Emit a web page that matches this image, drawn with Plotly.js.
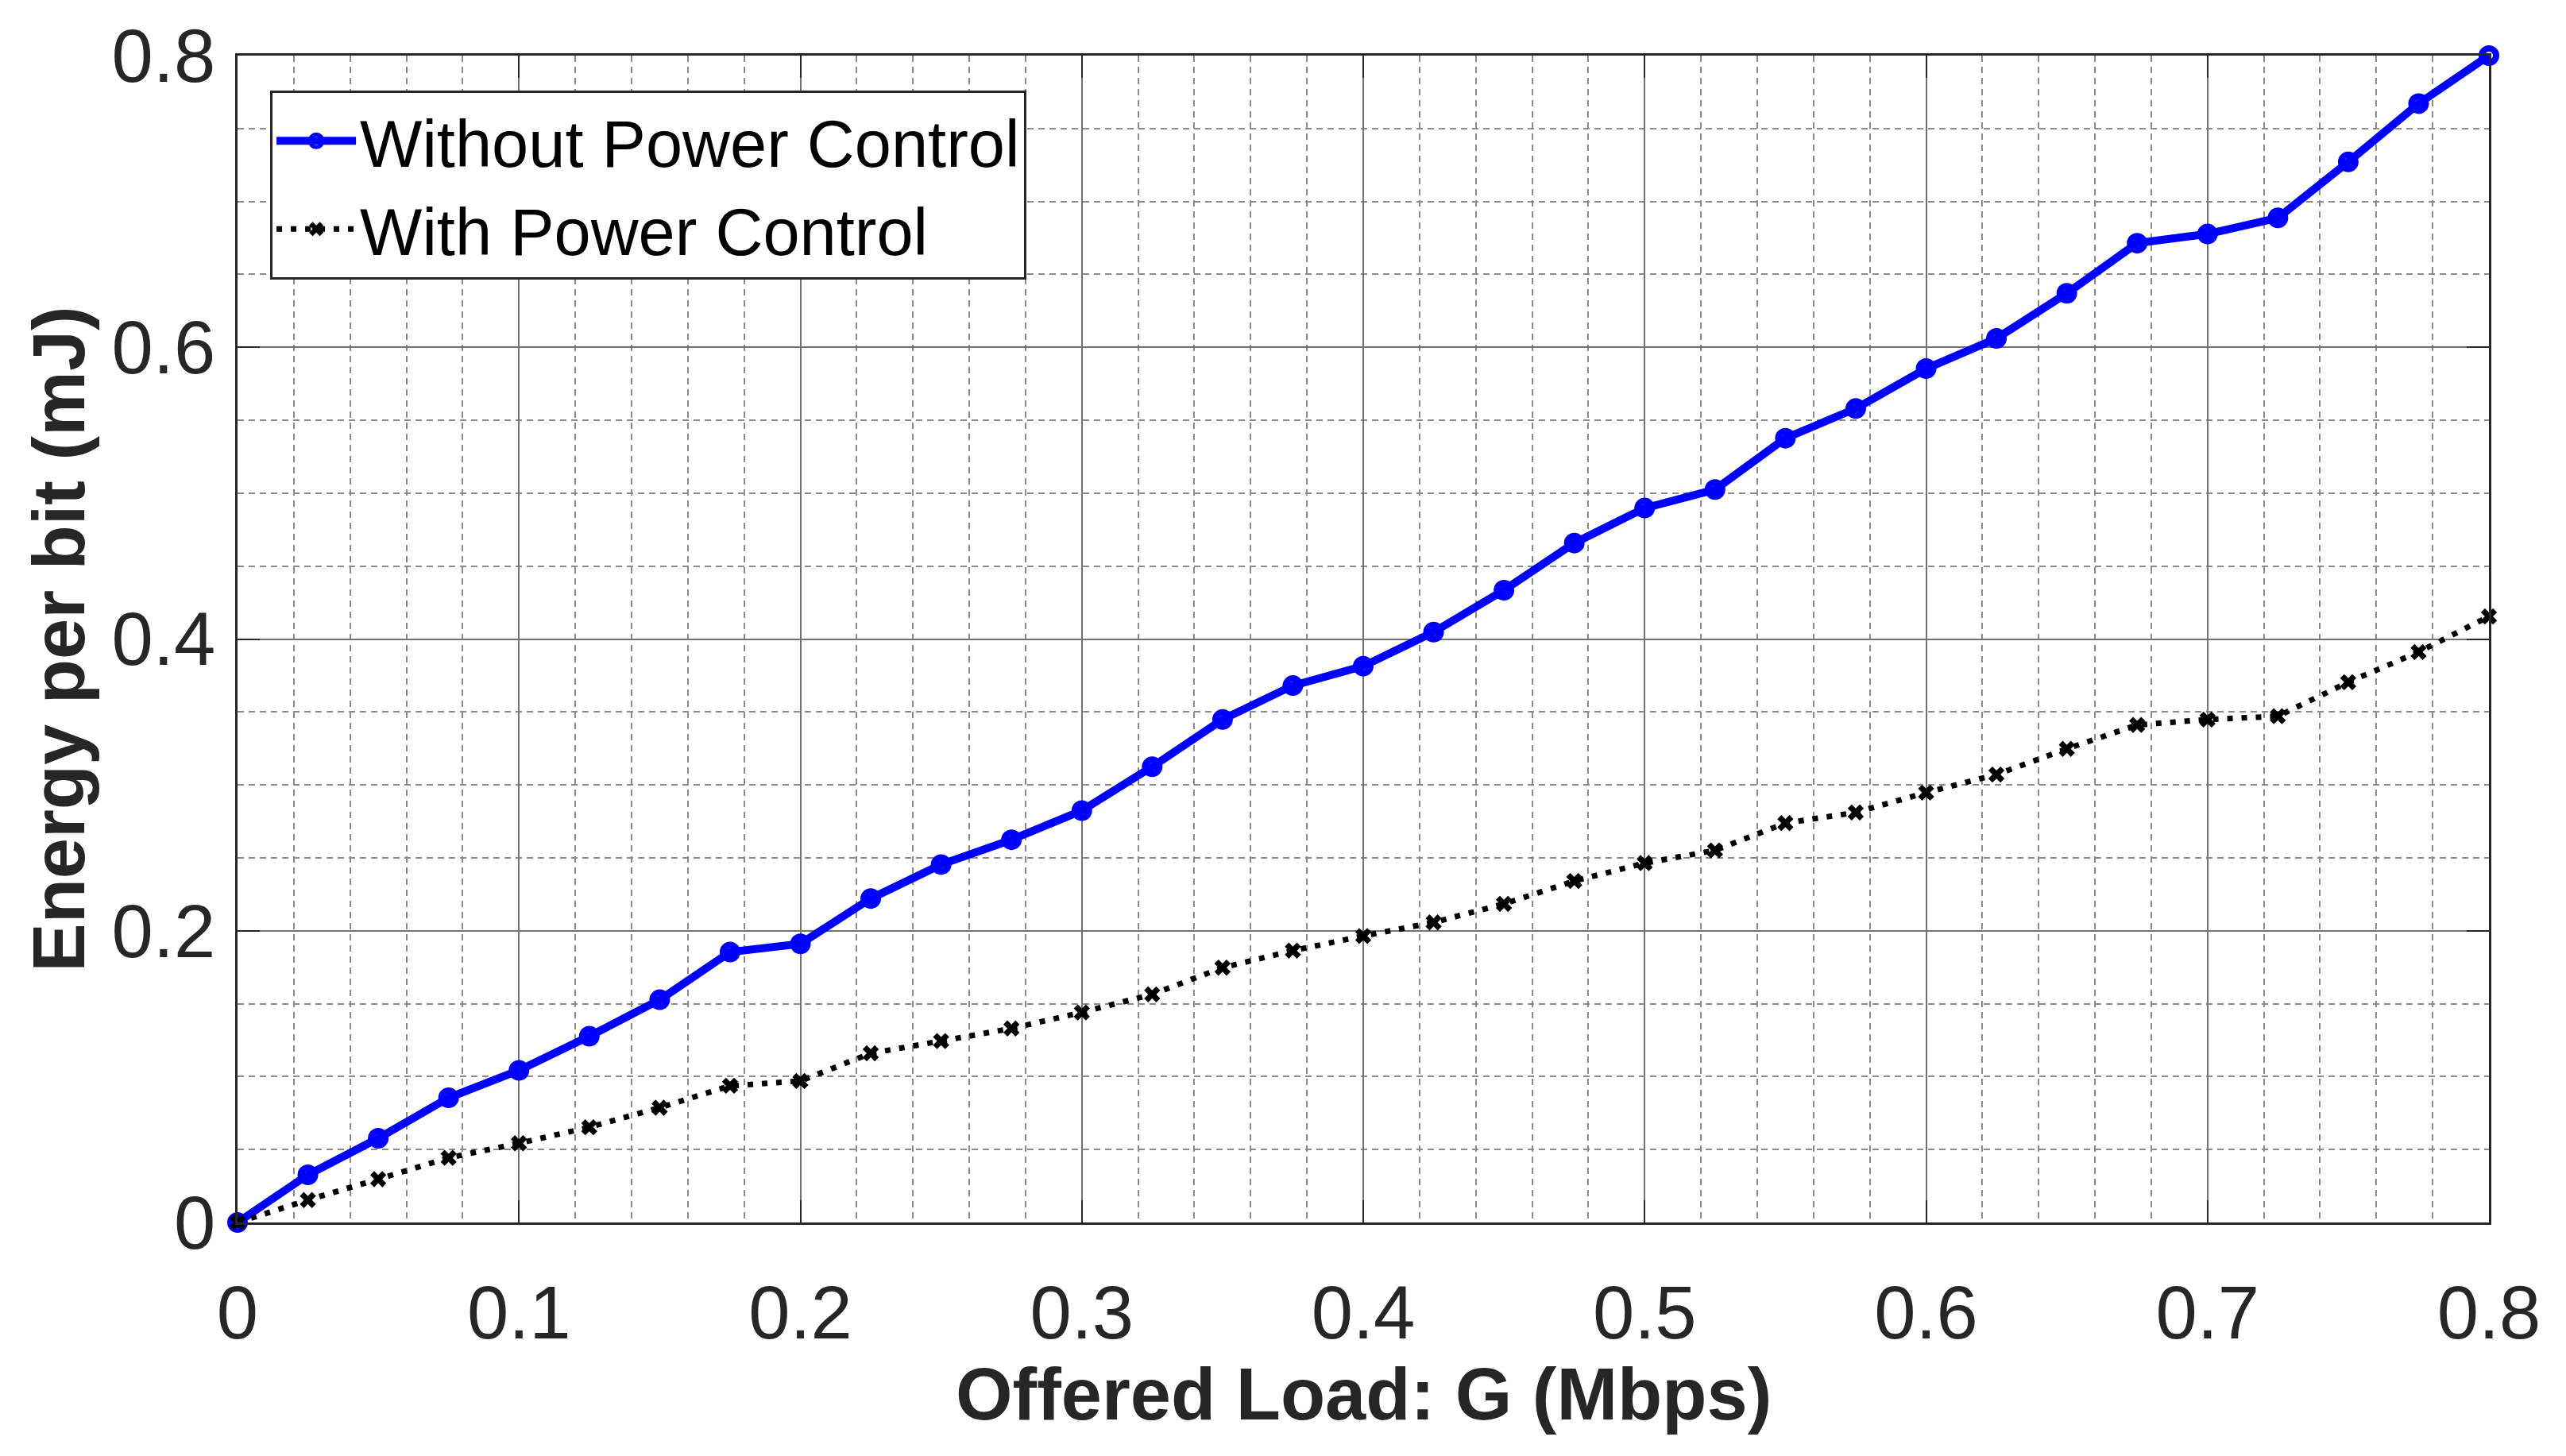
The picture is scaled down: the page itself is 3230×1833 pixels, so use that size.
<!DOCTYPE html>
<html>
<head>
<meta charset="utf-8">
<script src="https://cdn.plot.ly/plotly-3.0.1.min.js"></script>
<style>
  html, body { margin: 0; padding: 0; background: #ffffff; }
  #chart { width: 3230px; height: 1833px; }
</style>
</head>
<body>
<div id="chart"></div>
<script>
// Offered load G (Mbps)
const offeredLoad = [0, 0.025, 0.05, 0.075, 0.1, 0.125, 0.15, 0.175, 0.2, 0.225, 0.25, 0.275, 0.3, 0.325, 0.35, 0.375, 0.4, 0.425, 0.45, 0.475, 0.5, 0.525, 0.55, 0.575, 0.6, 0.625, 0.65, 0.675, 0.7, 0.725, 0.75, 0.775, 0.8];
// Energy per bit (mJ)
const withoutPowerControl = [0, 0.0327, 0.0577, 0.0855, 0.1043, 0.1277, 0.1527, 0.1854, 0.191, 0.2221, 0.2454, 0.2624, 0.2824, 0.3124, 0.3448, 0.3681, 0.3814, 0.4048, 0.4335, 0.4658, 0.4898, 0.5025, 0.5377, 0.558, 0.5854, 0.6061, 0.637, 0.6714, 0.6777, 0.6887, 0.7271, 0.7671, 0.8];
const withPowerControl = [0, 0.0154, 0.0297, 0.0443, 0.0543, 0.0653, 0.0787, 0.0937, 0.097, 0.116, 0.1244, 0.133, 0.144, 0.1564, 0.1747, 0.1864, 0.1964, 0.2057, 0.2184, 0.2341, 0.2464, 0.2551, 0.2738, 0.2811, 0.2947, 0.3071, 0.3247, 0.3411, 0.3448, 0.3471, 0.3704, 0.3911, 0.4155];

const seriesNames = ["Without Power Control", "With Power Control"];
const xTickVals = [0, 0.1, 0.2, 0.3, 0.4, 0.5, 0.6, 0.7, 0.8];
const xTickText = ["0", "0.1", "0.2", "0.3", "0.4", "0.5", "0.6", "0.7", "0.8"];
const yTickVals = [0, 0.2, 0.4, 0.6, 0.8];
const yTickText = ["0", "0.2", "0.4", "0.6", "0.8"];
const xTitle = "Offered Load: G (Mbps)";
const yTitle = "Energy per bit (mJ)";

const FONT = "Liberation Sans, Arial, Helvetica, sans-serif";
const AXC = "#262626";

const data = [
  {
    x: offeredLoad, y: withoutPowerControl, name: seriesNames[0],
    type: "scatter", mode: "lines+markers", cliponaxis: false,
    line: { color: "#0000ff", width: 10 },
    marker: { symbol: "circle-open", size: 18, color: "#0000ff", line: { color: "#0000ff", width: 8 } }
  },
  {
    x: offeredLoad, y: withPowerControl, name: seriesNames[1],
    type: "scatter", mode: "lines+markers", cliponaxis: false,
    line: { color: "#000000", width: 7, dash: "7px,11px" },
    marker: { symbol: "x", size: 18, color: "#000000" }
  }
];

const axisCommon = {
  showline: true, linecolor: AXC, linewidth: 3, mirror: "ticks",
  ticks: "inside", ticklen: 28, tickwidth: 2, tickcolor: AXC,
  showgrid: true, gridcolor: "#727272", gridwidth: 2,
  zeroline: false, fixedrange: true, automargin: false,
  tickfont: { family: FONT, size: 94, color: AXC },
};

const layout = {
  width: 3230, height: 1833,
  paper_bgcolor: "#ffffff", plot_bgcolor: "#ffffff",
  margin: { l: 299, r: 97, t: 70, b: 294, pad: 0 },
  showlegend: true,
  legend: {
    x: 0.0145, y: 0.9701, xanchor: "left", yanchor: "top",
    bgcolor: "#ffffff", bordercolor: AXC, borderwidth: 3,
    font: { family: FONT, size: 83, color: "#000000" },
    itemwidth: 100, tracegroupgap: 0
  },
  xaxis: Object.assign({}, axisCommon, {
    range: [0, 0.8], tickmode: "array", tickvals: xTickVals, ticktext: xTickText,
    ticklabelstandoff: 30,
    minor: { dtick: 0.02, tick0: 0, showgrid: true, gridcolor: "#8a8a8a", gridwidth: 2, griddash: "8px,6px", ticks: "" }
  }),
  yaxis: Object.assign({}, axisCommon, {
    range: [0, 0.8], tickmode: "array", tickvals: yTickVals, ticktext: yTickText,
    ticklabelstandoff: 6,
    minor: { dtick: 0.05, tick0: 0, showgrid: true, gridcolor: "#8a8a8a", gridwidth: 2, griddash: "8px,6px", ticks: "" },
    title: { text: yTitle, standoff: 4, font: { family: FONT, size: 92, color: AXC, weight: "bold" } }
  }),
  annotations: [
    {
      text: xTitle, xref: "paper", yref: "paper", x: 0.5, y: -0.1470,
      xanchor: "center", yanchor: "middle", showarrow: false, borderpad: 0,
      font: { family: FONT, size: 92, color: AXC, weight: "bold" }
    }
  ]
};

Plotly.newPlot("chart", data, layout, { displayModeBar: false, staticPlot: true });
</script>
</body>
</html>
